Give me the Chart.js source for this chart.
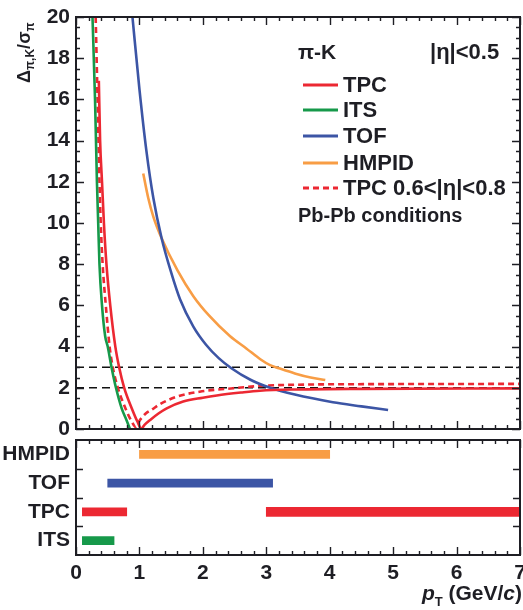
<!DOCTYPE html>
<html>
<head>
<meta charset="utf-8">
<script src="https://cdn.jsdelivr.net/npm/chart.js@4.4.1/dist/chart.umd.min.js"></script>
<style>
  html, body { margin: 0; padding: 0; background: #fff; }
  #wrap { position: relative; width: 523px; height: 610px; }
  #topChart { position: absolute; left: 0; top: 0; }
  #botChart { position: absolute; left: 0; top: 435px; }
</style>
</head>
<body>
<div id="wrap">
  <canvas id="topChart" width="523" height="445"></canvas>
  <canvas id="botChart" width="523" height="175"></canvas>
</div>
<script>
// separation power curves (pT in GeV/c, separation in sigma)
const tpcPt   = [0.36, 0.38, 0.41, 0.44, 0.48, 0.54, 0.62, 0.68, 0.76, 0.88, 0.97, 1.03, 1.08, 1.17, 1.30, 1.43, 1.69, 2.00, 2.22, 2.60, 2.90, 3.50, 4.50, 7.00];
const tpcSep  = [16.9, 14.0, 12.0, 10.0, 8.0, 6.0, 4.0, 3.0, 2.0, 1.0, 0.35, 0.02, 0.2, 0.44, 0.75, 1.0, 1.33, 1.52, 1.63, 1.77, 1.86, 1.92, 1.95, 1.97];
const itsPt   = [0.26, 0.30, 0.33, 0.35, 0.37, 0.41, 0.46, 0.50, 0.56, 0.63, 0.72, 0.80, 0.85];
const itsSep  = [20, 16, 12, 10, 8, 6, 4.5, 4, 3, 2, 1, 0.4, 0];
const tofPt   = [0.89, 1.00, 1.11, 1.22, 1.35, 1.50, 1.64, 1.85, 2.05, 2.25, 2.45, 2.75, 3.06, 3.45, 4.05, 4.50, 4.92];
const tofSep  = [20, 16.5, 13.5, 11.2, 9.26, 7.6, 6.3, 4.97, 4.09, 3.44, 2.95, 2.39, 2.0, 1.67, 1.3, 1.1, 0.92];
const hmpidPt  = [1.06, 1.14, 1.22, 1.35, 1.60, 1.85, 2.10, 2.43, 2.69, 2.90, 3.06, 3.20, 3.45, 3.70, 3.93];
const hmpidSep = [12.4, 11.2, 10.3, 9.26, 7.7, 6.45, 5.5, 4.5, 3.9, 3.4, 3.1, 2.95, 2.7, 2.5, 2.38];
const tpcFwdPt  = [0.31, 0.34, 0.37, 0.39, 0.42, 0.47, 0.53, 0.58, 0.66, 0.78, 0.88, 0.94, 1.00, 1.10, 1.20, 1.32, 1.59, 1.95, 2.48, 2.90, 3.50, 5.00, 7.00];
const tpcFwdSep = [20, 16, 12, 10, 8, 6, 4, 3, 2, 1, 0.35, 0.1, 0.4, 0.75, 0.95, 1.2, 1.57, 1.81, 1.98, 2.09, 2.15, 2.18, 2.19];
const sigmaLines = [2, 3];

// momentum coverage of each detector (bottom panel)
const detectors = ['HMPID', 'TOF', 'TPC', 'ITS'];
const coverage  = [[1.0, 4.0], [0.5, 3.1], [0.1, 0.8], [0.1, 0.6]];
const tpcRelRise = [3.0, 7.0];

const RED = '#ec2832', GREEN = '#16994a', BLUE = '#3c55a5', ORANGE = '#f89d45';
const INK = '#1e1e24';
const FONT = '"Liberation Sans", Arial, sans-serif';

function pts(xs, ys) {
  return xs.map((x, i) => ({x: x, y: ys[i]}));
}

function curve(label, xs, ys, color, dash) {
  return {
    label: label,
    data: pts(xs, ys),
    borderColor: color,
    borderWidth: 2.6,
    borderDash: dash || [],
    pointRadius: 0,
    cubicInterpolationMode: 'monotone',
    fill: false,
    order: 1
  };
}

function drawTicks(ctx, chart, xMinorPerMajor, yTicks) {
  const a = chart.chartArea;
  const xs = chart.scales.x;
  ctx.strokeStyle = INK;
  ctx.lineWidth = 1.4;
  ctx.beginPath();
  for (let i = 0; i <= 7 * xMinorPerMajor; i++) {
    const px = Math.round(xs.getPixelForValue(i / xMinorPerMajor)) + 0.5;
    const len = i % xMinorPerMajor === 0 ? 8 : 4;
    ctx.moveTo(px, a.bottom); ctx.lineTo(px, a.bottom - len);
    ctx.moveTo(px, a.top); ctx.lineTo(px, a.top + len);
  }
  yTicks.forEach(t => {
    const py = Math.round(t.py) + 0.5;
    ctx.moveTo(a.left, py); ctx.lineTo(a.left + t.len, py);
    ctx.moveTo(a.right, py); ctx.lineTo(a.right - t.len, py);
  });
  ctx.stroke();
  ctx.lineWidth = 2;
  ctx.strokeRect(a.left, a.top, a.right - a.left, a.bottom - a.top);
}

const topDecor = {
  id: 'topDecor',
  afterDraw(chart) {
    const ctx = chart.ctx;
    const ys = chart.scales.y;
    ctx.save();
    const yt = [];
    for (let i = 0; i <= 40; i++) {
      yt.push({py: ys.getPixelForValue(i / 2), len: i % 4 === 0 ? 8 : 4});
    }
    drawTicks(ctx, chart, 5, yt);

    // legend
    ctx.fillStyle = INK;
    ctx.textBaseline = 'middle';
    ctx.textAlign = 'left';
    ctx.font = 'bold 21px ' + FONT;
    ctx.fillText('\u03C0-K', 298, 53);
    ctx.font = 'bold 22px ' + FONT;
    ctx.fillText('|\u03B7|<0.5', 430, 53);
    const rows = [85, 110, 136, 163, 188];
    chart.data.datasets.slice(0, 5).forEach((ds, i) => {
      ctx.save();
      ctx.strokeStyle = ds.borderColor;
      ctx.lineWidth = 3;
      ctx.setLineDash(ds.borderDash.length ? [6, 4] : []);
      ctx.beginPath();
      ctx.moveTo(303, rows[i]); ctx.lineTo(338, rows[i]);
      ctx.stroke();
      ctx.restore();
      ctx.fillText(ds.label, 343, rows[i] + 1);
    });
    ctx.font = 'bold 20px ' + FONT;
    ctx.fillText('Pb-Pb conditions', 298, 216);

    // y axis title, rotated
    ctx.translate(30, 83);
    ctx.rotate(-Math.PI / 2);
    ctx.textBaseline = 'alphabetic';
    let x = 0;
    const big = 'bold 18px ' + FONT, small = 'bold 12px ' + FONT;
    [['\u0394', big, 0], ['\u03C0,K', small, 4], ['/\u03C3', big, 0], ['\u03C0', small, 4]].forEach(p => {
      ctx.font = p[1];
      ctx.fillText(p[0], x, p[2]);
      x += ctx.measureText(p[0]).width;
    });
    ctx.restore();
  }
};

const botDecor = {
  id: 'botDecor',
  afterDraw(chart) {
    const ctx = chart.ctx;
    const ys = chart.scales.y;
    ctx.save();
    const yt = [];
    for (let i = 0; i < detectors.length - 1; i++) {
      yt.push({py: (ys.getPixelForValue(i) + ys.getPixelForValue(i + 1)) / 2, len: 7});
    }
    drawTicks(ctx, chart, 5, yt);

    // x axis title: p_T (GeV/c)
    ctx.fillStyle = INK;
    ctx.textBaseline = 'alphabetic';
    const parts = [
      ['p', 'italic bold 21px ' + FONT, 0],
      ['T', 'bold 13px ' + FONT, 6],
      [' (GeV/', 'bold 21px ' + FONT, 0],
      ['c', 'italic bold 21px ' + FONT, 0],
      [')', 'bold 21px ' + FONT, 0]
    ];
    let w = 0;
    parts.forEach(p => { ctx.font = p[1]; w += ctx.measureText(p[0]).width; });
    let x = 522 - w;
    parts.forEach(p => {
      ctx.font = p[1];
      ctx.fillText(p[0], x, 165 + p[2]);
      x += ctx.measureText(p[0]).width;
    });
    ctx.restore();
  }
};

const sigmaSets = sigmaLines.map(s => ({
  label: s + ' sigma',
  data: [{x: 0, y: s}, {x: 7, y: s}],
  borderColor: '#111',
  borderWidth: 1.5,
  borderDash: [8, 5],
  pointRadius: 0,
  order: 5
}));

new Chart(document.getElementById('topChart').getContext('2d'), {
  type: 'line',
  data: {
    datasets: [
      curve('TPC', tpcPt, tpcSep, RED),
      curve('ITS', itsPt, itsSep, GREEN),
      curve('TOF', tofPt, tofSep, BLUE),
      curve('HMPID', hmpidPt, hmpidSep, ORANGE),
      curve('TPC 0.6<|\u03B7|<0.8', tpcFwdPt, tpcFwdSep, RED, [6, 4]),
      ...sigmaSets
    ]
  },
  options: {
    responsive: false,
    animation: false,
    layout: { padding: { top: 17, right: 3, bottom: 16, left: 0 } },
    plugins: { legend: { display: false }, tooltip: { enabled: false } },
    scales: {
      x: { type: 'linear', min: 0, max: 7, display: false },
      y: {
        min: 0, max: 20,
        grid: { display: false, drawTicks: false },
        border: { display: false },
        ticks: { stepSize: 2, padding: 6, color: INK, font: { family: FONT, weight: 'bold', size: 21 } },
        afterFit(scale) { scale.width = 76; scale.paddingTop = 0; scale.paddingBottom = 0; }
      }
    }
  },
  plugins: [topDecor]
});

new Chart(document.getElementById('botChart').getContext('2d'), {
  type: 'bar',
  data: {
    labels: detectors,
    datasets: [
      {
        label: 'coverage',
        data: coverage,
        backgroundColor: [ORANGE, BLUE, RED, GREEN],
        barThickness: 8,
        grouped: false
      },
      {
        label: 'TPC relativistic rise',
        data: detectors.map(d => d === 'TPC' ? tpcRelRise : null),
        backgroundColor: RED,
        barThickness: 9,
        grouped: false
      }
    ]
  },
  options: {
    indexAxis: 'y',
    responsive: false,
    animation: false,
    layout: { padding: { top: 5, right: 3, bottom: 0, left: 0 } },
    plugins: { legend: { display: false }, tooltip: { enabled: false } },
    scales: {
      x: {
        type: 'linear', min: 0, max: 7,
        grid: { display: false, drawTicks: false },
        border: { display: false },
        ticks: { stepSize: 1, padding: 6, color: INK, font: { family: FONT, weight: 'bold', size: 21 } },
        afterFit(scale) { scale.height = 55; scale.paddingLeft = 0; scale.paddingRight = 0; }
      },
      y: {
        grid: { display: false, drawTicks: false },
        border: { display: false },
        ticks: { padding: 6, autoSkip: false, color: INK, font: { family: FONT, weight: 'bold', size: 21 } },
        afterFit(scale) { scale.width = 76; scale.paddingTop = 0; scale.paddingBottom = 0; }
      }
    }
  },
  plugins: [botDecor]
});
</script>
</body>
</html>
